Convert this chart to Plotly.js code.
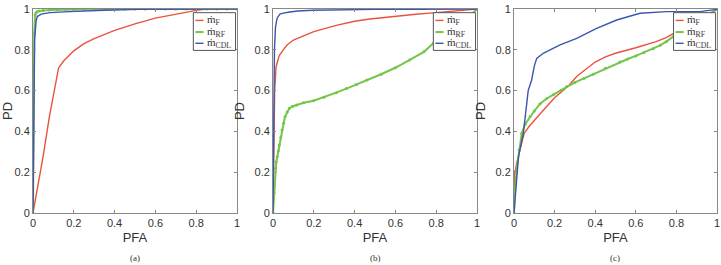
<!DOCTYPE html>
<html>
<head>
<meta charset="utf-8">
<script src="https://cdn.plot.ly/plotly-3.0.1.min.js"></script>
<style>
  html, body { margin: 0; padding: 0; background: #fff; }
  #chart { width: 721px; height: 265px; }
</style>
</head>
<body>
<div id="chart"></div>
<script>
// ROC curves (PD vs PFA) for three estimators, three scenarios (a), (b), (c).

// ---- (a) ----
const aF_x   = [0, 0.02, 0.05, 0.08, 0.1, 0.125, 0.15, 0.2, 0.25, 0.3, 0.4, 0.5, 0.6, 0.7, 0.8, 0.85, 1];
const aF_y   = [0, 0.11, 0.28, 0.47, 0.58, 0.71, 0.745, 0.795, 0.83, 0.855, 0.895, 0.927, 0.955, 0.975, 0.993, 1, 1];
const aRF_x  = [0, 0.003, 0.006, 0.01, 0.015, 0.02, 0.03, 0.05, 0.08, 0.12, 0.16, 0.2, 0.25, 0.3, 0.35, 0.4, 0.45, 0.5, 0.55, 0.6, 0.65, 0.7, 0.75, 0.8, 0.85, 0.9, 0.95, 1];
const aRF_y  = [0, 0.55, 0.88, 0.97, 0.982, 0.987, 0.99, 0.993, 0.995, 0.996, 0.997, 0.998, 0.998, 0.999, 0.999, 1, 1, 1, 1, 1, 1, 1, 1, 1, 1, 1, 1, 1];
const aCDL_x = [0, 0.003, 0.008, 0.015, 0.021, 0.04, 0.083, 0.15, 0.23, 0.35, 0.52, 0.7, 0.85, 1];
const aCDL_y = [0, 0.5, 0.85, 0.94, 0.963, 0.975, 0.982, 0.986, 0.99, 0.994, 0.998, 0.999, 1, 1];

// ---- (b) ----
const bF_x   = [0, 0.003, 0.008, 0.015, 0.03, 0.05, 0.07, 0.1, 0.15, 0.2, 0.31, 0.4, 0.475, 0.6, 0.7, 0.8, 0.9, 1];
const bF_y   = [0, 0.3, 0.6, 0.717, 0.77, 0.8, 0.825, 0.848, 0.87, 0.889, 0.92, 0.94, 0.951, 0.965, 0.974, 0.982, 0.99, 1];
const bRF_x  = [0, 0.005, 0.011, 0.016, 0.021, 0.026, 0.031, 0.038, 0.044, 0.052, 0.059, 0.069, 0.08, 0.095, 0.116, 0.15, 0.198, 0.25, 0.31, 0.36, 0.41, 0.46, 0.53, 0.6, 0.67, 0.74, 0.786, 0.85, 0.9, 0.95, 1];
const bRF_y  = [0, 0.1, 0.219, 0.25, 0.276, 0.305, 0.333, 0.37, 0.407, 0.44, 0.472, 0.495, 0.513, 0.522, 0.529, 0.54, 0.55, 0.568, 0.59, 0.61, 0.63, 0.652, 0.68, 0.712, 0.75, 0.79, 0.832, 0.87, 0.91, 0.95, 1];
const bCDL_x = [0, 0.003, 0.007, 0.012, 0.02, 0.034, 0.05, 0.083, 0.12, 0.196, 0.3, 0.5, 0.7, 0.9, 1];
const bCDL_y = [0, 0.45, 0.8, 0.91, 0.955, 0.975, 0.98, 0.985, 0.99, 0.994, 0.996, 0.998, 0.999, 1, 1];

// ---- (c) ----
const cF_x   = [0, 0.003, 0.006, 0.012, 0.022, 0.035, 0.05, 0.075, 0.1, 0.15, 0.2, 0.243, 0.27, 0.31, 0.36, 0.4, 0.45, 0.5, 0.6, 0.7, 0.75, 0.8, 0.85, 0.9, 0.95, 1];
const cF_y   = [0, 0.21, 0.2, 0.24, 0.276, 0.33, 0.39, 0.425, 0.455, 0.51, 0.565, 0.603, 0.625, 0.67, 0.71, 0.74, 0.765, 0.783, 0.81, 0.84, 0.86, 0.889, 0.92, 0.945, 0.97, 1];
const cRF_x  = [0, 0.005, 0.013, 0.025, 0.038, 0.055, 0.079, 0.1, 0.128, 0.16, 0.194, 0.23, 0.26, 0.3, 0.345, 0.39, 0.45, 0.522, 0.56, 0.6, 0.64, 0.686, 0.72, 0.75, 0.784, 0.82, 0.85, 0.88, 0.92, 0.96, 1];
const cRF_y  = [0, 0.12, 0.21, 0.31, 0.39, 0.435, 0.473, 0.5, 0.535, 0.56, 0.58, 0.6, 0.62, 0.64, 0.66, 0.68, 0.71, 0.74, 0.755, 0.77, 0.787, 0.805, 0.822, 0.84, 0.864, 0.88, 0.9, 0.92, 0.94, 0.97, 1];
const cCDL_x = [0, 0.022, 0.046, 0.07, 0.087, 0.1, 0.112, 0.144, 0.227, 0.309, 0.407, 0.506, 0.621, 0.752, 0.916, 1];
const cCDL_y = [0, 0.276, 0.39, 0.6, 0.652, 0.72, 0.758, 0.783, 0.824, 0.856, 0.905, 0.946, 0.979, 0.987, 0.987, 0.998];

const tickVals = [0, 0.2, 0.4, 0.6, 0.8, 1];
const tickText = ['0', '0.2', '0.4', '0.6', '0.8', '1'];
const captions = ['(a)', '(b)', '(c)'];
const legendNames = ['ṁ<sub>F</sub>', 'ṁ<sub>RF</sub>', 'ṁ<sub>CDL</sub>'];

const RED = '#e8533f', GREEN = '#74c54c', BLUE = '#3a56ae';
const colors = [RED, GREEN, BLUE];

const panels = [
  [[aF_x, aF_y], [aRF_x, aRF_y], [aCDL_x, aCDL_y]],
  [[bF_x, bF_y], [bRF_x, bRF_y], [bCDL_x, bCDL_y]],
  [[cF_x, cF_y], [cRF_x, cRF_y], [cCDL_x, cCDL_y]]
];

const axisIds = ['', '2', '3'];
const domains = [[0, 0.2982], [0.3509, 0.6491], [0.7032, 1.0]];

const traces = [];
panels.forEach((series, p) => {
  series.forEach((s, k) => {
    const isRF = (k === 1);
    traces.push({
      x: s[0], y: s[1],
      xaxis: 'x' + axisIds[p], yaxis: 'y' + axisIds[p],
      type: 'scatter',
      mode: isRF ? 'lines+markers' : 'lines',
      line: { color: colors[k], width: isRF ? 2 : 1.4 },
      marker: { color: colors[k], size: 3, symbol: 'circle' },
      showlegend: false,
      hoverinfo: 'skip'
    });
  });
});

const layout = {
  width: 721, height: 265,
  margin: { l: 33, r: 4, t: 9, b: 52, pad: 0 },
  paper_bgcolor: '#fff', plot_bgcolor: '#fff',
  font: { family: 'Liberation Sans, Arial, sans-serif', size: 11, color: '#333' },
  showlegend: false,
  shapes: [], annotations: []
};

axisIds.forEach((id, p) => {
  const common = {
    range: [0, 1],
    tickvals: tickVals, ticktext: tickText,
    ticks: 'inside', ticklen: 3, tickwidth: 1, tickcolor: '#888',
    showline: true, linecolor: '#888', linewidth: 1, mirror: 'ticks',
    showgrid: false, zeroline: false, fixedrange: true,
    tickfont: { size: 11, color: '#333' }
  };
  layout['xaxis' + id] = Object.assign({}, common, {
    domain: domains[p], anchor: 'y' + id,
    title: { text: 'PFA', font: { size: 13, color: '#333' }, standoff: 4 }
  });
  layout['yaxis' + id] = Object.assign({}, common, {
    domain: [0, 1], anchor: 'x' + id,
    title: { text: 'PD', font: { size: 13, color: '#333' }, standoff: 6 }
  });

  const xr = 'x' + id + ' domain', yr = 'y' + id + ' domain';
  // legend box
  layout.shapes.push({
    type: 'rect', xref: xr, yref: yr,
    x0: 0.786, x1: 0.993, y0: 0.797, y1: 0.982,
    line: { color: '#555', width: 1 }, fillcolor: '#fff', layer: 'above'
  });
  const rows = [0.944, 0.887, 0.832];
  rows.forEach((ry, k) => {
    layout.shapes.push({
      type: 'line', xref: xr, yref: yr,
      x0: 0.796, x1: 0.836, y0: ry, y1: ry,
      line: { color: colors[k], width: k === 1 ? 2 : 1.4 }, layer: 'above'
    });
    layout.annotations.push({
      xref: xr, yref: yr, x: 0.842, y: ry,
      xanchor: 'left', yanchor: 'middle', showarrow: false,
      text: legendNames[k],
      font: { family: 'Liberation Serif, DejaVu Serif, serif', size: 11, color: '#333' }
    });
  });
  // panel caption
  layout.annotations.push({
    xref: xr, yref: yr, x: 0.5, y: -0.22,
    xanchor: 'center', yanchor: 'middle', showarrow: false,
    text: captions[p],
    font: { family: 'Liberation Serif, DejaVu Serif, serif', size: 9, color: '#333' }
  });
});

Plotly.newPlot('chart', traces, layout, { displayModeBar: false, staticPlot: true });
</script>
</body>
</html>
